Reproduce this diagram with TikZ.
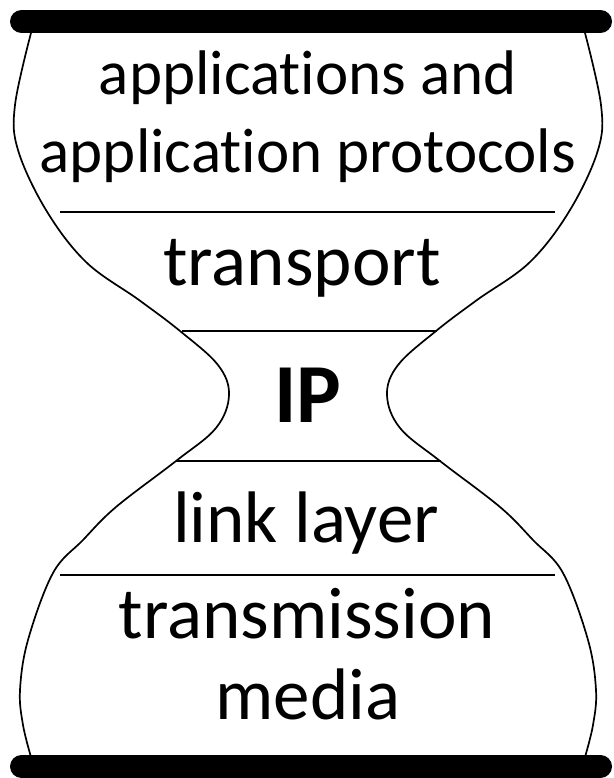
\documentclass[tikz,border=0pt]{standalone}
\usepackage{fontspec}
\setmainfont{Carlito}[Ligatures=NoCommon]
\begin{document}
\begin{tikzpicture}[x=1pt,y=-1pt,
  bar/.style={line width=23pt,line cap=round},
  glass/.style={line width=1.7pt},
  sep/.style={line width=1.8pt},
  lbl/.style={anchor=base,inner sep=0pt,font=\fontsize{63}{75}\selectfont},
  biglbl/.style={anchor=base,inner sep=0pt,font=\fontsize{73}{85}\selectfont},
  iplbl/.style={anchor=base,inner sep=0pt,font=\fontsize{84}{96}\selectfont\bfseries}]
\useasboundingbox (0,0) rectangle (613,778);
% bars
\draw[bar] (21.5,21.5) -- (600.5,21.5);
\draw[bar] (21.5,766.5) -- (600.5,766.5);
% hourglass sides
\draw[glass] plot[smooth,tension=0.6] coordinates {(31,33) (15,105) (18,150) (46,210) (86,262) (139,300) (180,331) (218,365) (229,395) (216,428) (176,461) (116,507) (83,540) (53,573) (28,640) (20,690) (23,725) (31,757)};
\draw[glass] plot[smooth,tension=0.6] coordinates {(585,33) (601,105) (598,150) (570,210) (530,262) (477,300) (436,331) (398,365) (387,395) (400,428) (440,461) (500,507) (533,540) (563,573) (588,640) (596,690) (593,725) (585,757)};
% separators
\draw[sep] (60,212) -- (555,212);
\draw[sep] (182,331) -- (437,331);
\draw[sep] (176,461) -- (441,461);
\draw[sep] (60,575) -- (555,575);
% labels
\node[lbl] (app1) at (308,95) {applications and};
\node[lbl] (app2) at (308,172) {application protocols};
\node[biglbl] (transport) at (302,285) {transport};
\node[iplbl] (ip) at (308,422) {IP};
\node[biglbl] (link) at (306,542) {link layer};
\node[biglbl] (trans) at (307,638) {transmission};
\node[biglbl] (media) at (308,719) {media};
\end{tikzpicture}
\end{document}
